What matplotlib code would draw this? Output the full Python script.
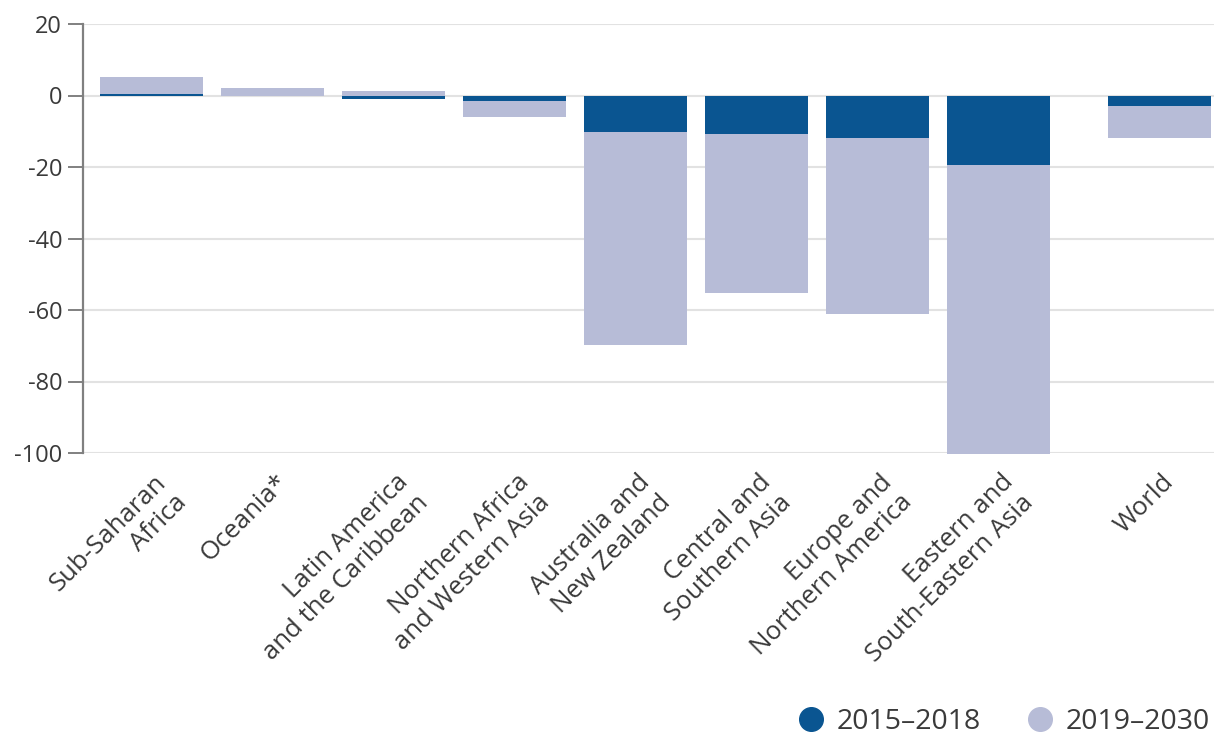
import matplotlib
matplotlib.use("Agg")
import matplotlib.pyplot as plt
import matplotlib.transforms as mtransforms
from matplotlib.lines import Line2D

plt.rcParams['font.family'] = ['Open Sans', 'DejaVu Sans']
plt.rcParams['axes.unicode_minus'] = False

# ---- data ----
categories = ["Sub-Saharan\nAfrica", "Oceania*", "Latin America\nand the Caribbean",
              "Northern Africa\nand Western Asia", "Australia and\nNew Zealand",
              "Central and\nSouthern Asia", "Europe and\nNorthern America",
              "Eastern and\nSouth-Eastern Asia", "World"]
x_positions = [0, 1, 2, 3, 4, 5, 6, 7, 8.33]
change_2015_2018 = [0.4, 0.0, -1.1, -1.5, -10.3, -10.7, -11.9, -19.5, -2.9]
change_2019_2030 = [4.9, 2.0, 1.2, -4.6, -59.6, -44.5, -49.3, -80.8, -9.0]
series_labels = ["2015\u20132018", "2019\u20132030"]
y_ticks = [20, 0, -20, -40, -60, -80, -100]

dark = "#0a5591"
light = "#b7bcd7"
text_color = "#3a3a3a"

fig = plt.figure(figsize=(12.14, 7.36), dpi=100)
ax = fig.add_axes([83/1214, 1-453/736, 1-83/1214, (453-24)/736])

# stacking bottoms for second series
bottoms = [d if (d * v) > 0 else 0 for d, v in zip(change_2015_2018, change_2019_2030)]

ax.bar(x_positions, change_2015_2018, width=0.85, color=dark, zorder=3, clip_on=False)
ax.bar(x_positions, change_2019_2030, width=0.85, bottom=bottoms, color=light, zorder=3, clip_on=False)

ax.set_ylim(-100, 20)
ax.set_xlim(-0.567, 8.78)
ax.set_yticks(y_ticks)
ax.set_yticklabels([str(v) for v in y_ticks], fontsize=17, color=text_color)
ax.yaxis.grid(True, color="#e2e2e2", linewidth=1.5, zorder=0)
ax.set_axisbelow(True)

for s in ["top", "right", "bottom"]:
    ax.spines[s].set_visible(False)
ax.spines["left"].set_color("#808080")
ax.spines["left"].set_linewidth(1.6)
ax.tick_params(axis="y", length=11, width=1.4, color="#808080", pad=4)

ax.set_xticks(x_positions)
ax.set_xticklabels(categories, rotation=45, ha="right", va="top",
                   rotation_mode="anchor", fontsize=18.5, color=text_color,
                   multialignment="right", linespacing=1.2)
ax.tick_params(axis="x", length=0, pad=12)
offset = mtransforms.ScaledTranslation(0.02, 0, fig.dpi_scale_trans)
for lbl in ax.get_xticklabels():
    lbl.set_transform(lbl.get_transform() + offset)

handles = [Line2D([0], [0], marker="o", linestyle="none", markersize=17,
                  markerfacecolor=c, markeredgecolor=c) for c in (dark, light)]
fig.legend(handles, series_labels, loc="lower right", bbox_to_anchor=(1.0, -0.006),
           ncol=2, frameon=False, fontsize=20.5, handlelength=1.0, handletextpad=0.38,
           columnspacing=1.6, labelcolor=text_color, borderaxespad=0.0, borderpad=0.15)

fig.savefig("out.png", dpi=100)
